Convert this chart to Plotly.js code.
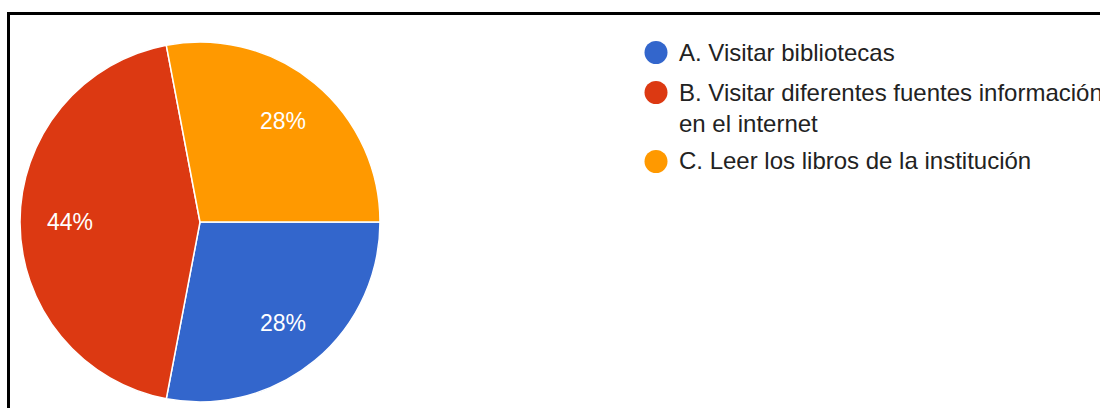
<!DOCTYPE html>
<html>
<head>
<meta charset="utf-8">
<script src="https://cdn.plot.ly/plotly-3.0.1.min.js"></script>
<style>
html,body{margin:0;padding:0;background:#fff;}
#chart{width:1100px;height:408px;}
</style>
</head>
<body>
<div id="chart"></div>
<script>
// Data
var labels = ["A. Visitar bibliotecas", "B. Visitar diferentes fuentes información<br>en el internet", "C. Leer los libros de la institución"];
var values = [7, 11, 7];
var colors = ["#3366cc", "#dc3912", "#ff9900"];

var W = 1100, H = 408;
var FONT = "Arial, 'Liberation Sans', sans-serif";
var cx = 200, cy = 222, R = 180, startDeg = 90;

var trace = {
  type: "pie",
  labels: labels,
  values: values,
  marker: {colors: colors, line: {color: "#ffffff", width: 1.5}},
  sort: false,
  direction: "clockwise",
  rotation: startDeg,
  textinfo: "none",
  hoverinfo: "label+percent",
  showlegend: false,
  domain: {x: [(cx - R) / W, (cx + R) / W], y: [(H - cy - R) / H, (H - cy + R) / H]}
};

var shapes = [{
  type: "rect", xref: "paper", yref: "paper",
  x0: 8.5 / W, x1: 1.1, y0: -0.1, y1: 1 - 13.5 / H,
  line: {color: "#000000", width: 3}, fillcolor: "rgba(0,0,0,0)"
}];
var annotations = [];

// Percent labels placed along each slice's mid-angle
var total = values.reduce(function (a, b) { return a + b; }, 0);
var cum = 0;
for (var j = 0; j < values.length; j++) {
  var frac = values[j] / total;
  var mid = (startDeg + 360 * (cum + frac / 2)) * Math.PI / 180;
  cum += frac;
  var k = 0.725;
  var px = cx + R * k * Math.sin(mid);
  var py = cy - R * k * Math.cos(mid);
  annotations.push({
    xref: "paper", yref: "paper", x: px / W, y: 1 - py / H,
    xanchor: "center", yanchor: "middle", showarrow: false,
    text: Math.round(frac * 100) + "%",
    font: {family: FONT, size: 23, color: "#ffffff"}
  });
}

// Custom legend with circle markers
var legendTop = [36.5, 76.5, 145];
var markerY = [52.5, 92.5, 161.5];
for (var i = 0; i < labels.length; i++) {
  shapes.push({
    type: "circle", xref: "paper", yref: "paper",
    x0: (656 - 11.5) / W, x1: (656 + 11.5) / W,
    y0: 1 - (markerY[i] + 11.5) / H, y1: 1 - (markerY[i] - 11.5) / H,
    fillcolor: colors[i], line: {width: 0}
  });
  annotations.push({
    xref: "paper", yref: "paper",
    x: 677 / W, y: 1 - legendTop[i] / H,
    xanchor: "left", yanchor: "top", align: "left",
    text: labels[i], showarrow: false,
    font: {family: FONT, size: 24, color: "#222222"}
  });
}

var layout = {
  width: W, height: H,
  margin: {l: 0, r: 0, t: 0, b: 0},
  paper_bgcolor: "#ffffff",
  plot_bgcolor: "#ffffff",
  showlegend: false,
  shapes: shapes,
  annotations: annotations
};

Plotly.newPlot("chart", [trace], layout, {displayModeBar: false, staticPlot: true});
</script>
</body>
</html>
